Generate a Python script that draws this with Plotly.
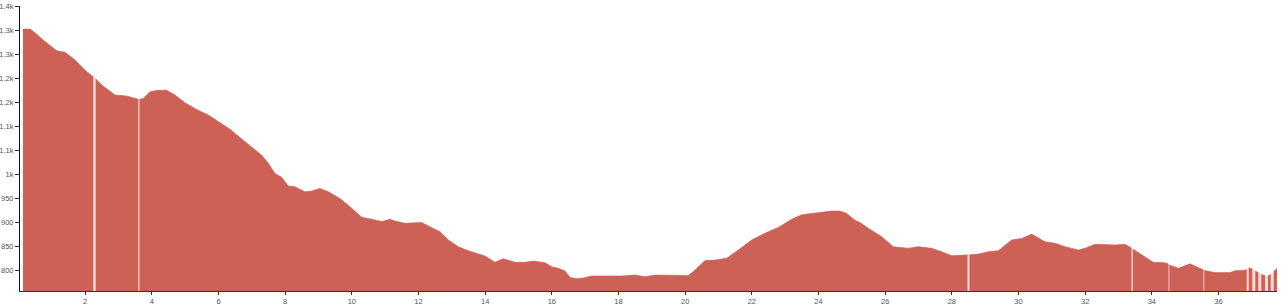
import plotly.graph_objects as go

distance_km = [
    0.135, 0.345, 0.495, 0.795, 1.146, 1.395, 1.695, 2.046, 2.244, None,
    2.315, 2.496, 2.895, 3.246, 3.594, None,
    3.63, 3.744, 3.945, 4.194, 4.446, 4.695, 4.995, 5.346, 5.694, 5.994, 6.345,
    6.795, 7.296, 7.494, 7.695, 7.896, 8.094, 8.295, 8.595, 8.796, 9.045, 9.294,
    9.645, 9.945, 10.296, 10.596, 10.896, 11.145, 11.295, 11.595, 12.096, 12.294,
    12.645, 12.894, 13.194, 13.494, 13.746, 13.995, 14.295, 14.544, 14.895, 15.195,
    15.444, 15.795, 15.996, 16.194, 16.395, 16.545, 16.746, 16.944, 17.196, 17.694,
    18.096, 18.495, 18.795, 19.095, 19.494, 20.094, 20.295, 20.595, 20.895, 21.246,
    21.594, 21.996, 22.395, 22.794, 23.196, 23.496, 23.796, 23.994, 24.396, 24.645,
    24.846, 25.095, 25.245, 25.494, 25.896, 26.244, 26.694, 26.994, 27.396, 27.696,
    27.996, 28.395, 28.47, None,
    28.53, 28.794, 29.094, 29.394, 29.796, 30.096, 30.396, 30.795, 31.095, 31.395,
    31.794, 31.995, 32.295, 32.595, 32.895, 33.195, 33.39, None,
    33.43, 33.696, 34.044, 34.395, 34.5, None,
    34.525, 34.794, 35.145, 35.496, 35.55, None,
    35.575, 35.895, 36.345, 36.495, 36.795, 36.847, None,
    36.907, 37.014, None,
    37.104, 37.194, None,
    37.284, 37.395, None,
    37.485, 37.566, None,
    37.656, 37.755,
]
elevation_m = [
    1302, 1302, 1294.5, 1276, 1257, 1254, 1238, 1213.5, 1203, None,
    1199, 1186, 1165, 1163, 1156, None,
    1156, 1158, 1172, 1175, 1175, 1165, 1149, 1135, 1123.5, 1110, 1094,
    1068, 1040, 1023, 1002, 994, 976, 974.5, 964, 965.5, 971, 964,
    950, 933, 911, 907, 902, 907, 903, 898.5, 900, 893,
    881, 864, 850, 841.5, 836, 830.5, 817.5, 825, 817.5, 817.5,
    820, 816.5, 808, 805, 799.5, 786, 783.5, 785, 789, 789,
    789, 791, 787.5, 791, 790, 790, 801.5, 821, 822, 826,
    843, 864, 878, 890, 907, 916, 919, 921, 924, 924,
    919, 905, 900, 888, 870.5, 850, 846.5, 850, 846.5, 839.5,
    831, 832.5, 833, None,
    833, 834.5, 839.5, 841.5, 864, 867, 876, 860, 857, 850,
    843, 846.5, 855, 853.5, 853.5, 855, 847, None,
    845, 832.5, 817.5, 816.5, 814, None,
    812, 805, 814.5, 803, 801.5, None,
    800.5, 796, 796, 800, 801, 803, None,
    806, 804, None,
    799, 796, None,
    792, 790, None,
    789.5, 792, None,
    798, 805,
]

x_tick_vals = list(range(2, 38, 2))
y_tick_vals = [800, 850, 900, 950, 1000, 1050, 1100, 1150, 1200, 1250, 1300, 1350]
y_tick_text = ["800", "850", "900", "950", "1k", "1.1k", "1.1k", "1.2k", "1.2k", "1.3k", "1.3k", "1.4k"]

FILL = "#cd6155"

# split the track into its recorded pieces
segments = []
cur_x, cur_y = [], []
for d, e in zip(distance_km, elevation_m):
    if d is None:
        if cur_x:
            segments.append((cur_x, cur_y))
        cur_x, cur_y = [], []
    else:
        cur_x.append(d)
        cur_y.append(e)
if cur_x:
    segments.append((cur_x, cur_y))

fig = go.Figure()
# faint underlay so the breaks read as pale stripes
fig.add_trace(go.Scatter(
    x=distance_km, y=elevation_m, mode="lines", fill="tozeroy", connectgaps=True,
    fillcolor="rgba(205,97,85,0.22)", line=dict(width=0),
    hoverinfo="skip", showlegend=False,
))
for sx, sy in segments:
    fig.add_trace(go.Scatter(
        x=sx, y=sy, mode="lines", fill="tozeroy",
        fillcolor=FILL, line=dict(color=FILL, width=0.6),
        hoverinfo="skip", showlegend=False,
    ))

tick_font = dict(family="Liberation Sans, Arial, sans-serif", size=7.5, color="#555")

fig.update_layout(
    width=1281, height=306,
    margin=dict(l=20, r=4, t=6, b=15, pad=0),
    paper_bgcolor="white", plot_bgcolor="white",
    showlegend=False,
)
fig.update_xaxes(
    range=[0.045, 37.755], tickvals=x_tick_vals,
    showgrid=False, zeroline=False,
    showline=True, linecolor="#333", linewidth=1,
    ticks="outside", ticklen=3, tickcolor="#333",
    tickfont=tick_font, automargin=False,
)
fig.update_yaxes(
    range=[757.8, 1350], tickvals=y_tick_vals, ticktext=y_tick_text,
    showgrid=False, zeroline=False,
    showline=True, linecolor="#111", linewidth=1,
    ticks="outside", ticklen=4, tickcolor="#333",
    tickfont=tick_font, automargin=False,
)

fig.write_html("out.html")
